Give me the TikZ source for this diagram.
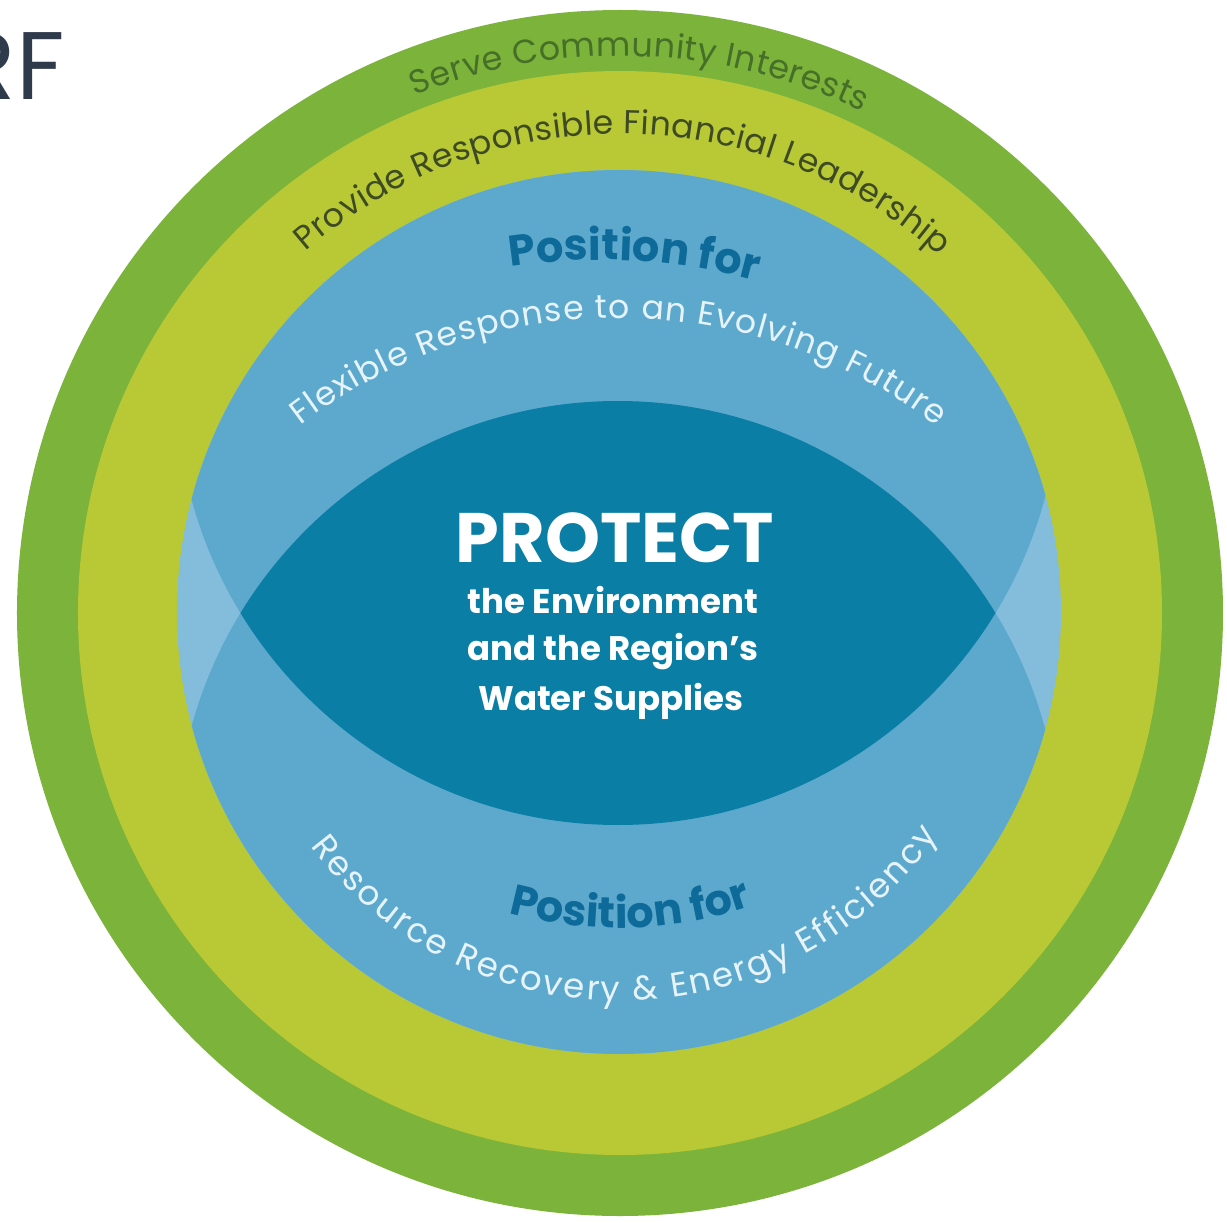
\documentclass[tikz,border=0pt]{standalone}
\usepackage{fontspec}
\setmainfont{Poppins}
\usetikzlibrary{decorations.text}

\definecolor{ringgreen}{HTML}{7BB33B}
\definecolor{ringlime}{HTML}{B8C935}
\definecolor{paleblue}{HTML}{84BCDC}
\definecolor{midblue}{HTML}{5DA9CD}
\definecolor{lensblue}{HTML}{0A7EA5}
\definecolor{posblue}{HTML}{0E6A99}
\definecolor{wavetext}{HTML}{E6F4FA}
\definecolor{servetext}{HTML}{466F27}
\definecolor{providetext}{HTML}{3D4A24}
\definecolor{rfgray}{HTML}{2F3A4B}

\begin{document}
\begin{tikzpicture}[x = 0.5pt, y = 0.5pt,
		ringtext/.style = {decorate, decoration = {text along path, text align = fit to path, text = {#1}}},
		postext/.style = {decorate, decoration = {text along path, text align = center, text = {|\bfseries\fontsize{21.5}{24}\selectfont\color{posblue}|#1}}},
		centretext/.style = {anchor = base, inner sep = 0, text = white, font = \bfseries\fontsize{17}{20}\selectfont}]
	\useasboundingbox (-620, -609) rectangle (607, 613);
	\fill[white] (-620, -609) rectangle (607, 613);
	\node[anchor = base east, inner sep = 0, text = rfgray, font = \fontsize{48}{50}\selectfont] (rf) at (-555, 513) {RF};
	% rings
	\fill[ringgreen] (0, 0) circle (603);
	\fill[ringlime] (0, 0) circle (542);
	\fill[paleblue] (-1, 1) circle (442);
	\begin{scope}
		\clip (-1, 1) circle (442);
		\fill[midblue] (-2, 230) circle (442);
		\fill[midblue] (-2, -230) circle (442);
		\clip (-2, 230) circle (442);
		\fill[lensblue] (-2, -230) circle (442);
	\end{scope}
	% texts along the rings
	\path[ringtext = {|\fontsize{16.7}{19}\selectfont\color{servetext}|Serve Community Interests}] (111.6:557) arc[start angle = 111.6, end angle = 64.2, radius = 557];
	\path[ringtext = {|\fontsize{16.5}{19}\selectfont\color{providetext}|Provide Responsible Financial Leadership}] (131:479) arc[start angle = 131, end angle = 48.3, radius = 479];
	\path[shift = {(-2, -228)}, ringtext = {|\fontsize{16.5}{19}\selectfont\color{wavetext}|Flexible Response to an Evolving Future}] (127.4:523) arc[start angle = 127.4, end angle = 52.5, radius = 523];
	\path[ringtext = {|\fontsize{17}{20}\selectfont\color{wavetext}|Resource Recovery {\&} Energy Efficiency}] (217:388) arc[start angle = 217, end angle = 325, radius = 388];
	\path[shift = {(-20, -247)}, postext = {Position for}] (110:600) arc[start angle = 110, end angle = 63.4, radius = 600];
	\path[shift = {(-3, 101)}, postext = {Position for}] (251.9:416) arc[start angle = 251.9, end angle = 291.9, radius = 416];
	% centre
	\node[anchor = base, inner sep = 0, text = white, font = \bfseries\fontsize{35}{40}\selectfont] (protect) at (-5, 51) {PROTECT};
	\node[centretext] (envline) at (-7, 0) {the Environment};
	\node[centretext] (regionline) at (-7, -47) {and the Region’s};
	\node[centretext] (waterline) at (-9, -97) {Water Supplies};
\end{tikzpicture}
\end{document}
